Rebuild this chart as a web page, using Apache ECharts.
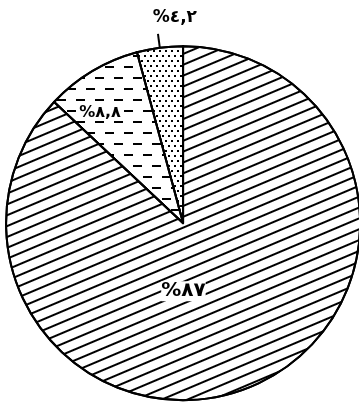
<!DOCTYPE html>
<html>
<head>
<meta charset="utf-8">
<script src="https://cdn.jsdelivr.net/npm/echarts@6/dist/echarts.min.js"></script>
<style>
  html, body { margin: 0; padding: 0; background: #fff; }
  #container { width: 359px; height: 408px; }
</style>
</head>
<body>
<div id="container"></div>
<script>
// shares, counter-clockwise from 12 o'clock
var shares = [4.2, 8.8, 87];
var shareLabels = ['%٤,٢', '%٨,٨', '%٨٧'];

var dom = document.getElementById('container');
var myChart = echarts.init(dom);

// fill patterns: dots, dashes, diagonal hatching
var patterns = [
	{ symbol: 'rect', symbolSize: 1, dashArrayX: [[2, 4], [0, 3, 2, 1]], dashArrayY: [2, 3], color: '#000' },
	{ symbol: 'rect', symbolSize: 1, dashArrayX: [[9, 10], [0, 10, 9, 0]], dashArrayY: [2, 9], color: '#000' },
	{ symbol: 'rect', symbolSize: 1, dashArrayX: [1, 0], dashArrayY: [2, 8], rotation: -0.4, color: '#000' }
];
// label nudges
var nudges = [[44, -16], [-36, -32], [-36, -16]];
var sizes = [17, 16, 20];

var option = {
	backgroundColor: '#fff',
	animation: false,
	series: [{
		type: 'pie',
		center: ['51%', '54.7%'],
		radius: 177,
		startAngle: 90,
		clockwise: false,
		silent: true,
		data: shares.map(function(v, i) {
			return {
				value: v,
				name: shareLabels[i],
				itemStyle: { color: '#fff', decal: patterns[i] },
				label: {
					position: i === 0 ? 'outside' : 'inside',
					fontSize: sizes[i]
				},
				labelLine: { show: i === 0, length: 14, length2: 0, lineStyle: { color: '#000', width: 2 } }
			};
		}),
		itemStyle: { borderColor: '#000', borderWidth: 2 },
		label: {
			formatter: '{b}',
			color: '#000',
			fontFamily: 'DejaVu Sans',
			fontWeight: 'bold',
			backgroundColor: '#fff'
		},
		labelLayout: function(params) {
			return { dx: nudges[params.dataIndex][0], dy: nudges[params.dataIndex][1] };
		}
	}]
};
myChart.setOption(option, true);
</script>
</body>
</html>
